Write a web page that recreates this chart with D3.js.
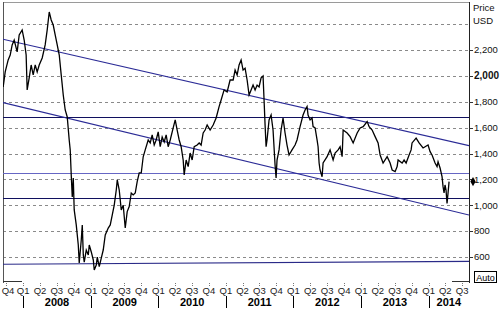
<!DOCTYPE html>
<html>
<head>
<meta charset="utf-8">
<script src="https://cdn.jsdelivr.net/npm/d3@7"></script>
<style>
  body { margin: 0; background: #fff; }
  svg { display: block; font-family: Arial, "Liberation Sans", sans-serif; }
</style>
</head>
<body>
<svg id="chart" width="500" height="310"></svg>
<script>
// Price chart with trend channel, 2007-2014

// time window shown
const startDate = "2007-09-14";
const endDate = "2014-08-07";
const yDomain = [399, 2572];

// price series: time as decimal year, value in USD
const priceT = [
  2007.704, 2007.734, 2007.778, 2007.808, 2007.837, 2007.867, 2007.911, 2007.941, 2007.985, 2008.015,
  2008.044, 2008.059, 2008.089, 2008.118, 2008.148, 2008.178, 2008.207, 2008.237, 2008.281, 2008.325,
  2008.355, 2008.385, 2008.414, 2008.444, 2008.473, 2008.503, 2008.533, 2008.562, 2008.592, 2008.621,
  2008.651, 2008.680, 2008.695, 2008.710, 2008.725, 2008.740, 2008.754, 2008.784, 2008.814, 2008.828,
  2008.858, 2008.873, 2008.888, 2008.902, 2008.932, 2008.962, 2008.976, 2009.006, 2009.036, 2009.050,
  2009.080, 2009.095, 2009.124, 2009.154, 2009.183, 2009.213, 2009.257, 2009.287, 2009.317, 2009.346,
  2009.376, 2009.391, 2009.420, 2009.450, 2009.479, 2009.509, 2009.538, 2009.568, 2009.598, 2009.627,
  2009.657, 2009.686, 2009.716, 2009.746, 2009.775, 2009.805, 2009.849, 2009.879, 2009.908, 2009.938,
  2009.967, 2009.997, 2010.027, 2010.056, 2010.086, 2010.115, 2010.145, 2010.175, 2010.219, 2010.249,
  2010.278, 2010.308, 2010.337, 2010.367, 2010.382, 2010.411, 2010.441, 2010.470, 2010.500, 2010.530,
  2010.574, 2010.604, 2010.633, 2010.663, 2010.692, 2010.722, 2010.766, 2010.811, 2010.855, 2010.899,
  2010.929, 2010.973, 2011.018, 2011.062, 2011.107, 2011.136, 2011.166, 2011.195, 2011.225, 2011.254,
  2011.284, 2011.314, 2011.343, 2011.373, 2011.402, 2011.432, 2011.462, 2011.491, 2011.521, 2011.550,
  2011.565, 2011.580, 2011.595, 2011.609, 2011.639, 2011.669, 2011.698, 2011.728, 2011.743, 2011.757,
  2011.787, 2011.817, 2011.846, 2011.876, 2011.905, 2011.935, 2011.979, 2012.024, 2012.053, 2012.098,
  2012.142, 2012.172, 2012.201, 2012.216, 2012.246, 2012.275, 2012.290, 2012.320, 2012.349, 2012.364,
  2012.379, 2012.393, 2012.423, 2012.438, 2012.497, 2012.541, 2012.586, 2012.615, 2012.660, 2012.689,
  2012.719, 2012.734, 2012.793, 2012.837, 2012.882, 2012.941, 2012.985, 2013.030, 2013.089, 2013.118,
  2013.163, 2013.207, 2013.251, 2013.281, 2013.325, 2013.385, 2013.429, 2013.459, 2013.503, 2013.533,
  2013.547, 2013.607, 2013.636, 2013.666, 2013.710, 2013.740, 2013.754, 2013.814, 2013.858, 2013.917,
  2013.947, 2013.991, 2014.021, 2014.050, 2014.095, 2014.124, 2014.139, 2014.169, 2014.198, 2014.213,
  2014.228, 2014.242, 2014.257, 2014.272, 2014.287, 2014.302
];
const priceV = [
  1915, 2031, 2124, 2162, 2240, 2278, 2186, 2317, 2356, 2278,
  2162, 1892, 1985, 2085, 2008, 2085, 2031, 2085, 2139, 2240,
  2356, 2495, 2433, 2394, 2317, 2240, 2162, 2008, 1853, 1737,
  1683, 1505, 1428, 1234, 1064, 1211, 964, 848, 693, 554,
  732, 848, 616, 561, 654, 616, 693, 639, 577, 500,
  538, 600, 525, 592, 654, 770, 824, 848, 925, 1002,
  1118, 1196, 1118, 964, 1000, 824, 951, 990, 1095, 1080,
  1095, 1183, 1250, 1250, 1375, 1428, 1505, 1482, 1544, 1466,
  1505, 1567, 1453, 1528, 1490, 1544, 1453, 1505, 1598, 1660,
  1582, 1505, 1453, 1350, 1234, 1350, 1299, 1404, 1350, 1453,
  1466, 1482, 1466, 1559, 1582, 1621, 1582, 1621, 1675, 1763,
  1814, 1892, 1876, 1969, 1969, 2046, 2008, 2085, 2124, 2046,
  2060, 1969, 1853, 1892, 1930, 1892, 1930, 1915, 1985, 2000,
  1814, 1621, 1453, 1505, 1660, 1698, 1582, 1312, 1211, 1350,
  1428, 1582, 1675, 1559, 1466, 1389, 1428, 1466, 1505, 1608,
  1698, 1737, 1763, 1698, 1660, 1675, 1608, 1598, 1505, 1453,
  1327, 1273, 1221, 1327, 1376, 1428, 1350, 1404, 1428, 1453,
  1376, 1582, 1559, 1531, 1482, 1559, 1598, 1608, 1647, 1608,
  1582, 1531, 1482, 1389, 1327, 1376, 1327, 1273, 1260, 1299,
  1350, 1327, 1350, 1327, 1389, 1428, 1482, 1520, 1482, 1443,
  1453, 1466, 1415, 1389, 1327, 1299, 1337, 1288, 1221, 1144,
  1095, 1157, 1118, 1015, 1095, 1183
];

// trend channel and levels (value at start and end of window)
const upperChannel = [2284, 1461];
const lowerChannel = [1794, 925];
const supportLine = [544, 566];
const darkLevels = [1681, 1054];
const lightLevels = [1250];

// axis labels
const yGridValues = [600, 800, 1000, 1200, 1400, 1600, 1800, 2000, 2200, 2400];
const yLabelValues = [600, 800, 1000, 1200, 1400, 1600, 1800, 2000, 2200];
const boldLabel = 2000;
const quarterNames = ["Q1", "Q2", "Q3", "Q4"];
const yearLabels = ["2008", "2009", "2010", "2011", "2012", "2013", "2014"];

const LEFT = 3, RIGHT = 469, TOP = 2, BOTTOM = 283;

function fromYearFrac(t) {
  const y = Math.floor(t);
  const a = Date.UTC(y, 0, 1), b = Date.UTC(y + 1, 0, 1);
  return new Date(a + (t - y) * (b - a));
}

const t0 = new Date(startDate + "T00:00:00Z");
const t1 = new Date(endDate + "T00:00:00Z");

const x = d3.scaleUtc().domain([t0, t1]).range([LEFT, RIGHT]);
const y = d3.scaleLinear().domain(yDomain).range([BOTTOM, TOP]);

const svg = d3.select("#chart");

svg.append("defs").append("clipPath").attr("id", "plot-clip")
  .append("rect")
  .attr("x", LEFT).attr("y", TOP)
  .attr("width", RIGHT - LEFT).attr("height", BOTTOM - TOP);

// dashed grid
svg.append("g")
  .selectAll("line")
  .data(yGridValues)
  .join("line")
  .attr("x1", LEFT).attr("x2", RIGHT)
  .attr("y1", d => Math.round(y(d)) + 0.5)
  .attr("y2", d => Math.round(y(d)) + 0.5)
  .attr("stroke", "#8a8a8a")
  .attr("stroke-dasharray", "3,3");

// frame
svg.append("line")
  .attr("x1", LEFT).attr("x2", RIGHT)
  .attr("y1", TOP + 0.5).attr("y2", TOP + 0.5)
  .attr("stroke", "#9a9a9a");
svg.append("line")
  .attr("x1", LEFT + 0.5).attr("x2", LEFT + 0.5)
  .attr("y1", TOP).attr("y2", BOTTOM)
  .attr("stroke", "#555");
svg.append("line")
  .attr("x1", RIGHT + 0.5).attr("x2", RIGHT + 0.5)
  .attr("y1", TOP).attr("y2", BOTTOM)
  .attr("stroke", "#222");
svg.append("line")
  .attr("x1", LEFT).attr("x2", 22)
  .attr("y1", BOTTOM - 1.5).attr("y2", BOTTOM - 1.5)
  .attr("stroke", "#333");
svg.append("line")
  .attr("x1", 452).attr("x2", RIGHT)
  .attr("y1", BOTTOM - 1.5).attr("y2", BOTTOM - 1.5)
  .attr("stroke", "#333");

const plot = svg.append("g").attr("clip-path", "url(#plot-clip)");

// horizontal levels
plot.selectAll(".dark-level")
  .data(darkLevels)
  .join("line")
  .attr("class", "dark-level")
  .attr("x1", LEFT).attr("x2", RIGHT)
  .attr("y1", d => Math.round(y(d)) + 0.5)
  .attr("y2", d => Math.round(y(d)) + 0.5)
  .attr("stroke", "#10105e");
plot.selectAll(".light-level")
  .data(lightLevels)
  .join("line")
  .attr("class", "light-level")
  .attr("x1", LEFT).attr("x2", RIGHT)
  .attr("y1", d => Math.round(y(d)) + 0.5)
  .attr("y2", d => Math.round(y(d)) + 0.5)
  .attr("stroke", "#6666c4");

// channel lines
const trend = [upperChannel, lowerChannel, supportLine];
plot.selectAll(".trend")
  .data(trend)
  .join("line")
  .attr("class", "trend")
  .attr("x1", x(t0)).attr("x2", x(t1))
  .attr("y1", d => y(d[0]))
  .attr("y2", d => y(d[1]))
  .attr("stroke", (d, i) => i === 2 ? "#2a2a88" : "#2b2b96")
  .attr("stroke-width", 1.1);

// price line
const series = priceT.map((t, i) => ({ date: fromYearFrac(t), value: priceV[i] }));
const line = d3.line().x(d => x(d.date)).y(d => y(d.value));
plot.append("path")
  .datum(series)
  .attr("d", line)
  .attr("fill", "none")
  .attr("stroke", "#000")
  .attr("stroke-width", 1.3)
  .attr("stroke-linejoin", "miter");

// right axis
const yAxis = svg.append("g");
yAxis.selectAll("line")
  .data(yLabelValues)
  .join("line")
  .attr("x1", RIGHT).attr("x2", RIGHT + 4)
  .attr("y1", d => Math.round(y(d)) + 0.5)
  .attr("y2", d => Math.round(y(d)) + 0.5)
  .attr("stroke", "#333");
yAxis.selectAll("text")
  .data(yLabelValues)
  .join("text")
  .attr("x", RIGHT + 5)
  .attr("y", d => y(d))
  .attr("dy", "0.35em")
  .attr("font-size", d => d === boldLabel ? 10 : 9.5)
  .attr("font-weight", d => d === boldLabel ? "bold" : "normal")
  .attr("fill", "#111")
  .text(d => d3.format(",")(d));

svg.append("text").attr("x", RIGHT + 4).attr("y", 11)
  .attr("font-size", 9.5).attr("fill", "#111").text("Price");
svg.append("text").attr("x", RIGHT + 4).attr("y", 24)
  .attr("font-size", 9.5).attr("fill", "#111").text("USD");

// last price marker
const last = series[series.length - 1];
svg.append("path")
  .attr("d", d3.symbol(d3.symbolDiamond, 24)())
  .attr("transform", `translate(${RIGHT + 4},${y(last.value)})`)
  .attr("fill", "#000");

// Auto box
svg.append("rect")
  .attr("x", 474.5).attr("y", 271.5)
  .attr("width", 22).attr("height", 11)
  .attr("fill", "#fff").attr("stroke", "#000");
svg.append("text")
  .attr("x", 485.5).attr("y", 280.5)
  .attr("text-anchor", "middle")
  .attr("font-size", 9).attr("fill", "#000")
  .text("Auto");

// quarter ticks and labels
const quarters = d3.utcMonth.every(3).range(d3.utcMonth.ceil(t0), t1);
const xAxis = svg.append("g");
xAxis.selectAll("line")
  .data(quarters)
  .join("line")
  .attr("x1", d => Math.round(x(d)) + 0.5)
  .attr("x2", d => Math.round(x(d)) + 0.5)
  .attr("y1", BOTTOM).attr("y2", BOTTOM + 4)
  .attr("stroke", "#777")
  .attr("stroke-dasharray", "1,1");
xAxis.selectAll("text")
  .data(quarters)
  .join("text")
  .attr("x", d => Math.max(x(d), 8))
  .attr("y", 294)
  .attr("text-anchor", "middle")
  .attr("font-size", 9.5)
  .attr("fill", "#222")
  .text(d => quarterNames[Math.floor(d.getUTCMonth() / 3)]);

// year separators and labels
const yearStarts = yearLabels.map(s => new Date(Date.UTC(+s, 0, 1)));
svg.append("g").selectAll("line")
  .data(yearStarts)
  .join("line")
  .attr("x1", d => Math.round(x(d)) + 0.5)
  .attr("x2", d => Math.round(x(d)) + 0.5)
  .attr("y1", 296).attr("y2", 308)
  .attr("stroke", "#000");
svg.append("g").selectAll("text")
  .data(yearLabels)
  .join("text")
  .attr("x", (d, i) => {
    const a = x(yearStarts[i]);
    const b = i + 1 < yearStarts.length ? x(yearStarts[i + 1]) : RIGHT;
    return (a + b) / 2;
  })
  .attr("y", 306)
  .attr("text-anchor", "middle")
  .attr("font-size", 11)
  .attr("font-weight", "bold")
  .attr("fill", "#000")
  .text(d => d);
</script>
</body>
</html>
